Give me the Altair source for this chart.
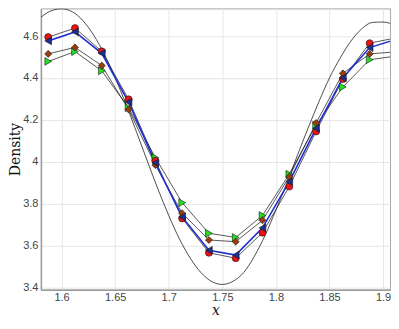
import altair as alt
import pandas as pd

# marker sample positions
x_pts = [1.5875, 1.6125, 1.6375, 1.6625, 1.6875, 1.7125, 1.7375, 1.7625,
         1.7875, 1.8125, 1.8375, 1.8625, 1.8875, 1.9125]
red = [4.595, 4.638, 4.527, 4.298, 4.005, 3.730, 3.566, 3.540, 3.662, 3.882,
       4.145, 4.395, 4.566, 4.592]
blue = [4.577, 4.620, 4.518, 4.285, 3.995, 3.737, 3.578, 3.555, 3.685, 3.905,
        4.160, 4.400, 4.545, 4.585]
brown = [4.515, 4.546, 4.459, 4.250, 3.985, 3.755, 3.627, 3.619, 3.721, 3.929,
         4.185, 4.422, 4.515, 4.525]
green = [4.479, 4.526, 4.434, 4.258, 4.020, 3.805, 3.659, 3.639, 3.744, 3.941,
         4.175, 4.357, 4.487, 4.505]

# reference (exact) curve
x_ex = [1.5807, 1.59, 1.60, 1.61, 1.62, 1.63, 1.64, 1.65, 1.66, 1.67, 1.68,
        1.69, 1.70, 1.71, 1.72, 1.73, 1.74, 1.75, 1.76, 1.77, 1.78, 1.79,
        1.80, 1.81, 1.82, 1.83, 1.84, 1.85, 1.86, 1.87, 1.88, 1.89, 1.90, 1.913]
y_ex = [4.69, 4.72, 4.73, 4.716, 4.673, 4.604, 4.512, 4.401, 4.276, 4.141,
        4.004, 3.869, 3.744, 3.632, 3.541, 3.472, 3.429, 3.415, 3.430, 3.472,
        3.55, 3.65, 3.77, 3.895, 4.03, 4.16, 4.285, 4.40, 4.495, 4.576, 4.634,
        4.665, 4.667, 4.647]

x_ticks = [1.6, 1.65, 1.7, 1.75, 1.8, 1.85, 1.9]
y_ticks = [3.4, 3.6, 3.8, 4.0, 4.2, 4.4, 4.6]

x_dom = [1.5807, 1.9065]
y_dom = [3.39, 4.732]

ex_df = pd.DataFrame({"x": x_ex, "y": y_ex})


def sdf(vals):
    return pd.DataFrame({"x": x_pts, "y": vals})


xs = alt.Scale(domain=x_dom, nice=False, zero=False)
ys = alt.Scale(domain=y_dom, nice=False, zero=False)

xenc = alt.X("x:Q", scale=xs,
             axis=alt.Axis(values=x_ticks, format="~g", title="x",
                           titleFont="DejaVu Serif", titleFontStyle="italic",
                           titleFontWeight="normal", titleFontSize=14,
                           titlePadding=1, labelPadding=2))
yenc = alt.Y("y:Q", scale=ys,
             axis=alt.Axis(values=y_ticks, format="~g", title="Density",
                           titleFont="DejaVu Serif", titleFontWeight="normal",
                           titleFontSize=14, titlePadding=0, labelPadding=3))

base_x = alt.X("x:Q", scale=xs)
base_y = alt.Y("y:Q", scale=ys)

exact = alt.Chart(ex_df).mark_line(color="#222222", strokeWidth=0.8,
                                   interpolate="monotone", clip=True).encode(x=xenc, y=yenc)

layers = [exact]
for vals in [green, brown, red]:
    layers.append(alt.Chart(sdf(vals)).mark_line(color="#111111", strokeWidth=0.7,
                                                 clip=True).encode(x=base_x, y=base_y))
layers.append(alt.Chart(sdf(blue)).mark_line(color="#1f2fd0", strokeWidth=1.6,
                                             clip=True).encode(x=base_x, y=base_y))

markers = [
    (green, "triangle-right", "#22e01e", 60),
    (brown, "diamond", "#9a3c0c", 50),
    (red, "circle", "#ee1111", 50),
    (blue, "triangle-left", "#1a2f8f", 60),
]
for vals, shape, col, size in markers:
    layers.append(alt.Chart(sdf(vals)).mark_point(shape=shape, filled=True, fill=col,
                                                  stroke="#1a1a1a", strokeWidth=0.6,
                                                  size=size, opacity=1, clip=True)
                  .encode(x=base_x, y=base_y))

chart = alt.layer(*layers).properties(
    width=350, height=282,
    padding={"top": 0, "left": 0, "right": 0, "bottom": 0},
).configure_view(
    stroke="#a8a8a8", strokeWidth=1
).configure_axis(
    grid=True, gridColor="#e6e6e6", gridWidth=1,
    ticks=False, tickSize=0,
    domainColor="#9a9a9a", domainWidth=1.5,
    labelFont="Liberation Sans", labelFontSize=11, labelColor="#444444",
    titleColor="#111111",
)

chart.save("out.html", embed_options={"renderer": "svg", "actions": False})
